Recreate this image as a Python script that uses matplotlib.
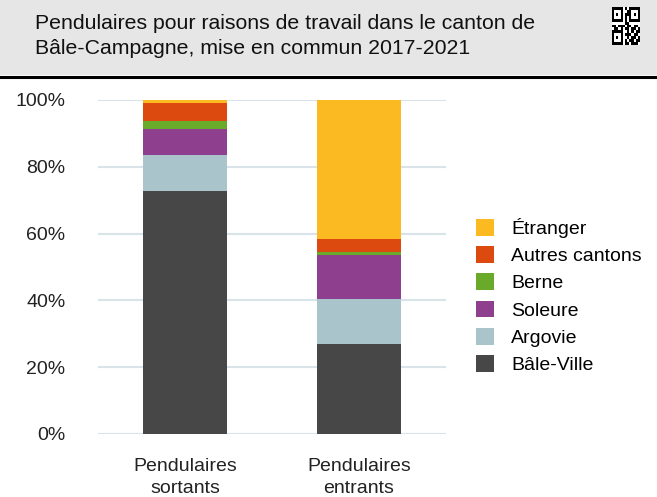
import numpy as np
import matplotlib.pyplot as plt
from matplotlib.patches import Rectangle

plt.rcParams['font.family'] = ['Liberation Sans', 'DejaVu Sans']

# Data (shares in %)
groups = ['Pendulaires\nsortants', 'Pendulaires\nentrants']
series = ['Bâle-Ville', 'Argovie', 'Soleure', 'Berne', 'Autres cantons', 'Étranger']
bale_ville = [72.8, 26.9]
argovie = [10.7, 13.4]
soleure = [7.7, 13.2]
berne = [2.5, 1.1]
autres = [5.5, 3.7]
etranger = [0.8, 41.7]
colors = ['#474747', '#a9c4cb', '#8e3f8e', '#6aaa2a', '#dd4a10', '#fbba22']

title = "Pendulaires pour raisons de travail dans le canton de\nBâle-Campagne, mise en commun 2017-2021"

fig = plt.figure(figsize=(6.57, 4.97), dpi=100)

# Header band
fig.patches.append(Rectangle((0, 1 - 75 / 497), 1, 75 / 497, transform=fig.transFigure,
                             facecolor='#e6e6e6', edgecolor='none', zorder=0))
fig.add_artist(plt.Line2D([0, 1], [1 - 76.5 / 497] * 2, transform=fig.transFigure,
                          color='black', lw=2.2))
fig.text(35 / 657, 1 - 36 / 497, title, fontsize=15.3, va='center', ha='left',
         linespacing=1.42, color='#111111')

# Small QR-like mark in the corner
qr = np.array([
    [1, 1, 1, 1, 1, 0, 1, 0, 1, 1, 1, 1, 1],
    [1, 0, 0, 0, 1, 0, 0, 1, 1, 0, 0, 0, 1],
    [1, 0, 1, 0, 1, 0, 1, 1, 1, 0, 1, 0, 1],
    [1, 0, 0, 0, 1, 0, 1, 0, 1, 0, 0, 0, 1],
    [1, 1, 1, 1, 1, 0, 1, 0, 1, 1, 1, 1, 1],
    [0, 0, 0, 0, 0, 0, 1, 1, 0, 0, 0, 0, 0],
    [1, 1, 0, 1, 1, 1, 0, 1, 1, 0, 1, 1, 0],
    [0, 1, 1, 0, 1, 0, 1, 1, 0, 1, 1, 0, 1],
    [1, 1, 1, 1, 1, 0, 0, 1, 0, 1, 0, 1, 1],
    [1, 0, 0, 0, 1, 0, 1, 1, 1, 0, 1, 1, 0],
    [1, 0, 1, 0, 1, 0, 0, 1, 0, 1, 1, 0, 1],
    [1, 0, 0, 0, 1, 0, 1, 0, 1, 1, 0, 1, 1],
    [1, 1, 1, 1, 1, 0, 1, 1, 0, 1, 1, 1, 0],
])
qax = fig.add_axes([612 / 657, 1 - 45 / 497, 28 / 657, 38 / 497], zorder=5)
qax.imshow(qr, cmap='Greys', vmin=0, vmax=1, interpolation='nearest', aspect='auto')
qax.set_axis_off()

# Main chart
ax = fig.add_axes([98 / 657, 1 - 434 / 497, 348 / 657, 334 / 497], zorder=3)
ax.patch.set_alpha(0)
x = np.arange(len(groups))
bottom = np.zeros(len(groups))
handles = []
for name, vals, c in zip(series, [bale_ville, argovie, soleure, berne, autres, etranger], colors):
    h = ax.bar(x, vals, 0.48, bottom=bottom, color=c, label=name, zorder=3)
    handles.append(h)
    bottom += np.array(vals)

ax.set_xlim(-0.5, 1.5)
ax.set_ylim(0, 100)
ax.set_yticks([0, 20, 40, 60, 80, 100])
ax.set_yticklabels(['0%', '20%', '40%', '60%', '80%', '100%'])
ax.set_xticks(x)
ax.set_xticklabels(groups)
ax.grid(axis='y', color='#d9e4ea', lw=1.5, zorder=0)
for s in ax.spines.values():
    s.set_visible(False)
ax.tick_params(axis='both', length=0, labelsize=14, colors='#222222')
ax.tick_params(axis='y', pad=23.5)
ax.tick_params(axis='x', pad=17)
for lbl in ax.get_xticklabels():
    lbl.set_linespacing(1.4)

leg = fig.legend(handles[::-1], series[::-1], loc='upper left',
                 bbox_to_anchor=(476 / 657, 1 - 218 / 497), frameon=False,
                 fontsize=14, handlelength=0.95, handleheight=0.95,
                 labelspacing=0.42, handletextpad=0.85,
                 borderpad=0, borderaxespad=0)

plt.savefig('out.png', dpi=100)
